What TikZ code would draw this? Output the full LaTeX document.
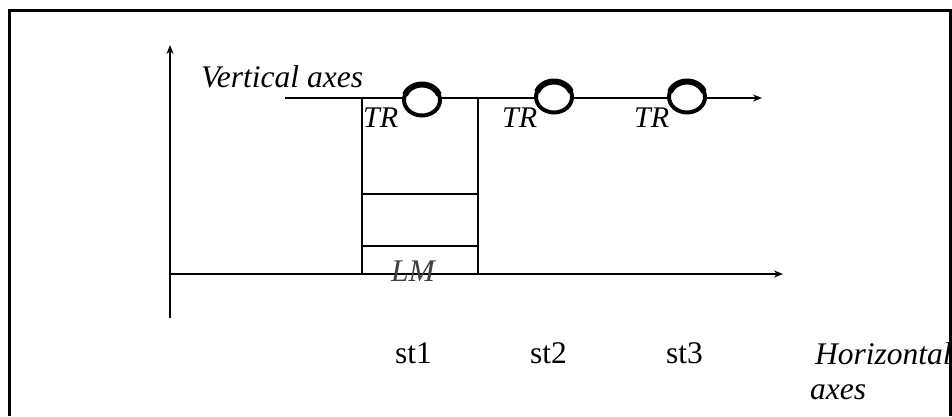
\documentclass[tikz,border=0pt]{standalone}
\usepackage{fontspec}
\setmainfont{Liberation Serif}
\usetikzlibrary{arrows.meta}
\begin{document}
\begin{tikzpicture}[x=1pt,y=-1pt,
  axis/.style={line width=2.8pt,-{Stealth[length=9pt,width=7pt]}},
  thin/.style={line width=2.6pt},
  frameline/.style={line width=3pt},
  ring/.style={line width=4pt,fill=white},
  ringbase/.style={line width=6pt},
  lab/.style={font=\fontsize{31.5}{36}\selectfont\itshape,inner sep=0pt,anchor=base west},
  trlab/.style={font=\fontsize{30}{34}\selectfont\itshape,inner sep=0pt,anchor=base west},
  stlab/.style={font=\fontsize{31.5}{36}\selectfont,inner sep=0pt,anchor=base west}]
\useasboundingbox (0,0) rectangle (952,416);

% axes
\coordinate (o) at (170,274);
\coordinate (vtop) at (170,45);
\coordinate (vbot) at (170,318);
\coordinate (hend) at (783,274);
\draw[axis] (vbot) -- (vtop);
\draw[thin] (vbot) -- (o);
\draw[axis] (o) -- (hend);

% upper line carrying the transfer rings
\coordinate (ls) at (285,98);
\coordinate (le) at (762,98);
\draw[axis] (ls) -- (le);

% stacked box
\coordinate (b1) at (362,98);
\coordinate (b2) at (478,274);
\draw[thin] (b1) rectangle (b2);
\coordinate (d1l) at (362,194); \coordinate (d1r) at (478,194);
\coordinate (d2l) at (362,246); \coordinate (d2r) at (478,246);
\draw[thin] (d1l) -- (d1r);
\draw[thin] (d2l) -- (d2r);

% rings
\foreach \n/\cx/\cy in {r1/422/100, r2/554/97, r3/687/97}{
  \coordinate (\n) at (\cx,\cy);
  \draw[ring] (\n) ellipse [x radius=18, y radius=15.5];
  \draw[ringbase] (\n) ++(200:18 and 15.5) arc [start angle=200, end angle=340, x radius=18, y radius=15.5];
}

% labels
\node[lab] (vlab) at (201,87) {Vertical axes};
\node[trlab] (tr1) at (363,127) {TR};
\node[trlab] (tr2) at (502,127) {TR};
\node[trlab] (tr3) at (634,127) {TR};
\node[lab,text=black!75] (lm) at (391,281) {LM};
\node[stlab] (st1) at (395,363) {st1};
\node[stlab] (st2) at (530,363) {st2};
\node[stlab] (st3) at (666,363) {st3};
\node[lab] (hlab1) at (815,364) {Horizontal};
\node[lab] (hlab2) at (810,399) {axes};

% outer frame
\coordinate (fbl) at (9,416);
\coordinate (ftl) at (9,10);
\coordinate (ftr) at (950,10);
\coordinate (fbr) at (950,416);
\fill[white] (950,10) rectangle (952,416);
\draw[frameline] (fbl) -- (ftl) -- (ftr) -- (fbr);
\end{tikzpicture}
\end{document}
